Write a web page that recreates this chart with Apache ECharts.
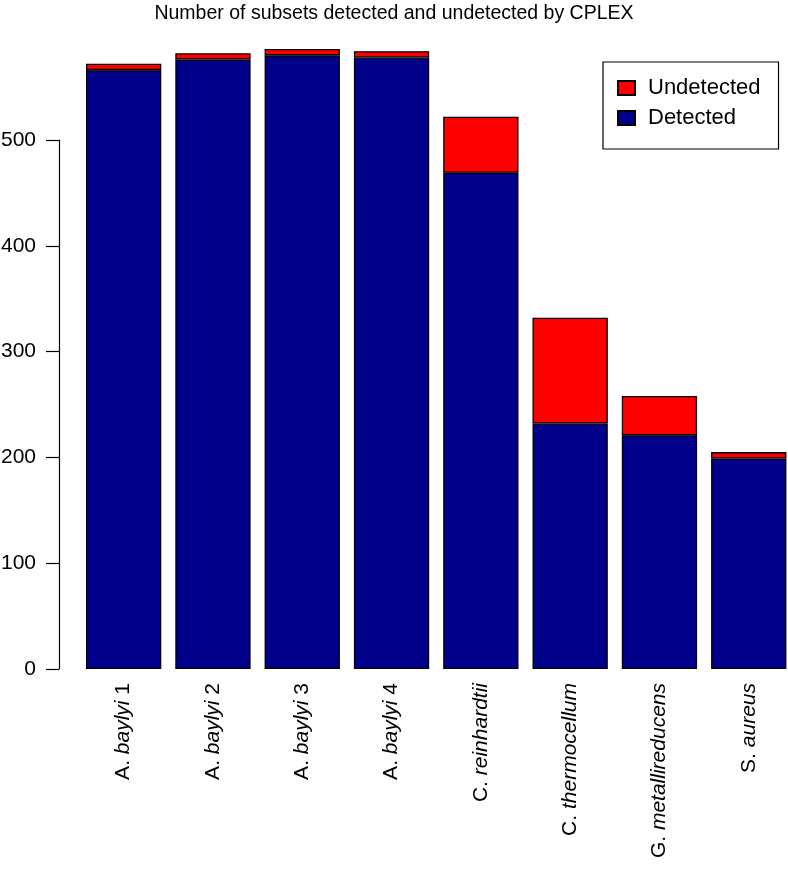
<!DOCTYPE html>
<html>
<head>
<meta charset="utf-8">
<script src="https://cdn.jsdelivr.net/npm/echarts@6/dist/echarts.min.js"></script>
<style>
html,body{margin:0;padding:0;background:#fff;}
#chart{width:788px;height:873px;}
</style>
</head>
<body>
<div id="chart"></div>
<script>
const genus = ['A.', 'A.', 'A.', 'A.', 'C.', 'C.', 'G.', 'S.'];
const species = ['baylyi', 'baylyi', 'baylyi', 'baylyi', 'reinhardtii', 'thermocellum', 'metallireducens', 'aureus'];
const suffix = ['1', '2', '3', '4', '', '', '', ''];
const categories = genus.map((g, i) => g + ' ' + species[i] + (suffix[i] ? ' ' + suffix[i] : ''));
const detected = [566, 576, 580, 578, 469, 232, 221, 199];
const undetected = [6, 6, 6, 6, 53, 100, 37, 6];
const yTicks = [0, 100, 200, 300, 400, 500];

const FONT = '"Liberation Sans", Arial, Helvetica, sans-serif';
const chart = echarts.init(document.getElementById('chart'), null, {renderer: 'canvas'});
chart.setOption({
  backgroundColor: '#ffffff',
  animation: false,
  title: {
    text: 'Number of subsets detected and undetected by CPLEX',
    left: 'center',
    top: -1,
    textStyle: {fontFamily: FONT, fontSize: 19.5, fontWeight: 'normal', color: '#000'}
  },
  legend: {
    data: ['Undetected', 'Detected'],
    orient: 'vertical',
    left: 603,
    top: 62,
    padding: [15, 18, 20, 14],
    itemWidth: 17,
    itemHeight: 14,
    itemGap: 8,
    borderColor: '#000',
    borderWidth: 1.2,
    icon: 'rect',
    textStyle: {fontFamily: FONT, fontSize: 22, color: '#000', lineHeight: 22, padding: [0, 0, 0, 8]}
  },
  grid: {left: 79, width: 714.4, top: 140, bottom: 204, containLabel: false, outerBoundsMode: 'none'},
  xAxis: {
    type: 'category',
    data: categories,
    axisLine: {show: false},
    axisTick: {show: false},
    axisLabel: {
      rotate: 90,
      margin: 14,
      interval: 0,
      fontFamily: FONT,
      fontSize: 21,
      color: '#000',
      formatter: function (v, idx) {
        return '{n|' + genus[idx] + ' }{i|' + species[idx] + '}' + (suffix[idx] ? '{n| ' + suffix[idx] + '}' : '');
      },
      rich: {
        n: {fontFamily: FONT, fontSize: 21, color: '#000'},
        i: {fontFamily: FONT, fontSize: 21, color: '#000', fontStyle: 'italic'}
      }
    }
  },
  yAxis: {
    type: 'value',
    min: yTicks[0],
    max: yTicks[yTicks.length - 1],
    interval: 100,
    offset: 20,
    splitLine: {show: false},
    axisLine: {show: true, lineStyle: {color: '#000', width: 1.2}},
    axisTick: {show: true, length: 13, lineStyle: {color: '#000', width: 1.2}},
    axisLabel: {margin: 23, fontFamily: FONT, fontSize: 21, color: '#000'}
  },
  series: [
    {
      name: 'Detected',
      type: 'bar',
      stack: 'total',
      data: detected,
      barWidth: 75.3,
      clip: false,
      itemStyle: {color: '#00008B', borderColor: '#000', borderWidth: 1.3}
    },
    {
      name: 'Undetected',
      type: 'bar',
      stack: 'total',
      data: undetected,
      barWidth: 75.3,
      clip: false,
      itemStyle: {color: '#FF0000', borderColor: '#000', borderWidth: 1.3}
    }
  ]
});
</script>
</body>
</html>
